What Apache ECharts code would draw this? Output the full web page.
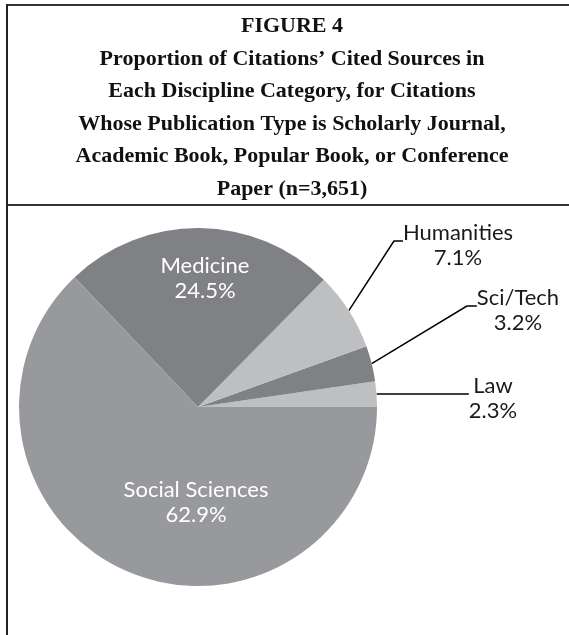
<!DOCTYPE html>
<html>
<head>
<meta charset="utf-8">
<script src="https://cdn.jsdelivr.net/npm/echarts@6/dist/echarts.min.js"></script>
<style>
html,body{margin:0;padding:0;background:#fff;}
#chart{width:569px;height:635px;}
</style>
</head>
<body>
<div id="chart"></div>
<script>
const titleLines = [
  'FIGURE 4',
  'Proportion of Citations\u2019 Cited Sources in',
  'Each Discipline Category, for Citations',
  'Whose Publication Type is Scholarly Journal,',
  'Academic Book, Popular Book, or Conference',
  'Paper (n=3,651)'
];
const categories = ['Law', 'Sci/Tech', 'Humanities', 'Medicine', 'Social Sciences'];
const values = [2.3, 3.2, 7.1, 24.5, 62.9];
const colors = ['#bebfc1', '#808185', '#bebfc1', '#808185', '#98999d'];
const insideLabel = [false, false, false, true, true];
const labelPositions = [[493, 394], [518, 306], [458, 241], [205, 278], [196, 502]];
const lineLen2 = [10, 10, 9, 0, 0];

const chart = echarts.init(document.getElementById('chart'), null, {renderer: 'canvas'});

const data = categories.map((c, i) => ({
  name: c,
  value: values[i],
  itemStyle: {color: colors[i]},
  label: {
    position: insideLabel[i] ? 'inside' : 'outside',
    color: insideLabel[i] ? '#ffffff' : '#1a1a1a',
    formatter: insideLabel[i]
      ? '{t|{b}}\n{t|{c}%}'
      : '{s| }\n{t|{b}}\n{t|{c}%}',
    rich: {
      t: {fontFamily: 'Lato', fontSize: 22, lineHeight: 25, color: insideLabel[i] ? '#ffffff' : '#1a1a1a', align: 'center'},
      s: {fontSize: 1, lineHeight: 9}
    }
  },
  labelLine: {show: !insideLabel[i], length: 10, length2: lineLen2[i]}
}));

chart.setOption({
  animation: false,
  backgroundColor: '#ffffff',
  title: {
    text: titleLines.join('\n'),
    left: 287,
    top: 5,
    textAlign: 'center',
    textStyle: {
      fontFamily: 'Liberation Serif',
      fontWeight: 'bold',
      fontSize: 22,
      lineHeight: 32.6,
      color: '#111111'
    }
  },
  graphic: [
    {type: 'line', shape: {x1: 7, y1: 5, x2: 569, y2: 5}, style: {stroke: '#333', lineWidth: 2}},
    {type: 'line', shape: {x1: 7, y1: 205, x2: 569, y2: 205}, style: {stroke: '#333', lineWidth: 2}},
    {type: 'line', shape: {x1: 7, y1: 4, x2: 7, y2: 635}, style: {stroke: '#222', lineWidth: 2}}
  ],
  series: [{
    type: 'pie',
    center: [198, 407],
    radius: 179,
    startAngle: 0,
    clockwise: false,
    avoidLabelOverlap: false,
    label: {
      fontFamily: 'Lato',
      fontSize: 22,
      lineHeight: 25,
      align: 'center'
    },
    labelLine: {
      lineStyle: {color: '#000000', width: 1.5},
      smooth: false
    },
    labelLayout: function (params) {
      const p = labelPositions[params.dataIndex];
      return {x: p[0], y: p[1], align: 'center', verticalAlign: 'middle'};
    },
    data: data
  }]
});
</script>
</body>
</html>
